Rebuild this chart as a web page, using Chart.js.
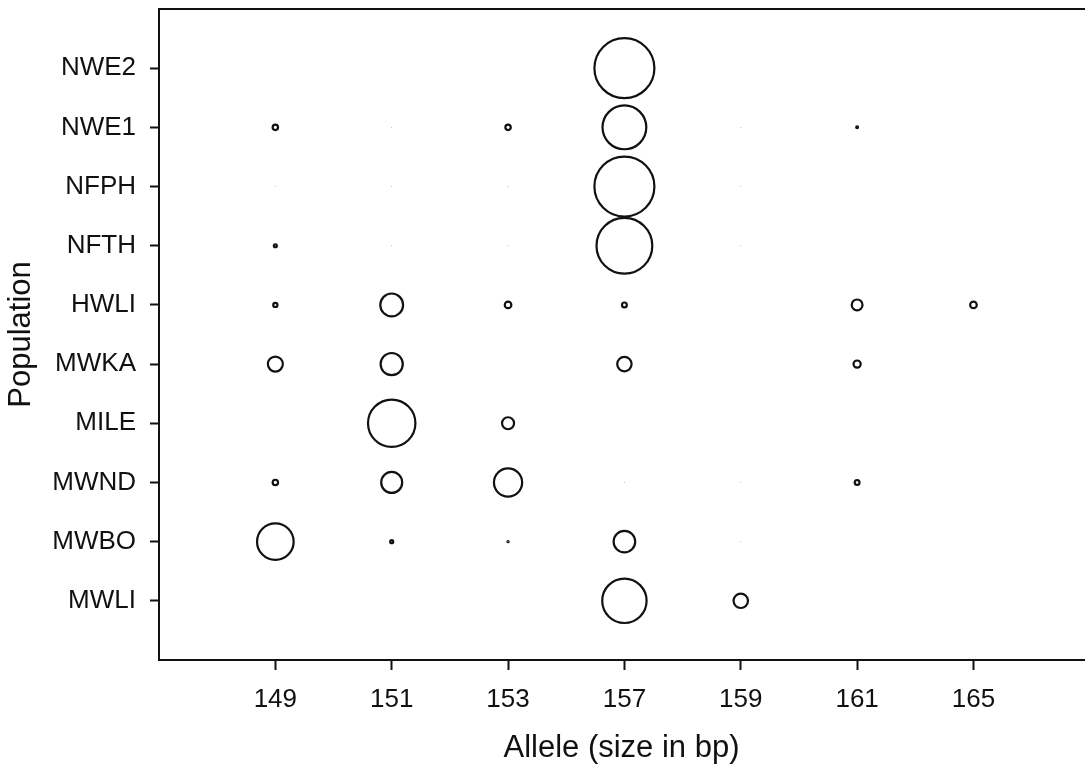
<!DOCTYPE html>
<html>
<head>
<meta charset="utf-8">
<script src="https://cdn.jsdelivr.net/npm/chart.js@4.4.1/dist/chart.umd.min.js"></script>
<style>
  html, body { margin: 0; padding: 0; background: #fff; overflow: hidden; }
  #wrap { width: 1085px; height: 772px; }
</style>
</head>
<body>
<div id="wrap"><canvas id="alleleChart" width="1085" height="772"></canvas></div>
<script>
// allele sizes (x) and populations (y, top to bottom)
const alleles = ['149', '151', '153', '157', '159', '161', '165'];
const populations = ['NWE2', 'NWE1', 'NFPH', 'NFTH', 'HWLI', 'MWKA', 'MILE', 'MWND', 'MWBO', 'MWLI'];

// allele frequency per population, same order as alleles (null = not found)
const NWE2 = [null, null, null, 1.00, null, null, null];
const NWE1 = [0.09, 0.005, 0.09, 0.73, 0.005, 0.03, null];
const NFPH = [0.005, 0.005, 0.005, 1.00, 0.005, null, null];
const NFTH = [0.05, 0.005, 0.005, 0.93, 0.005, null, null];
const HWLI = [0.07, 0.38, 0.11, 0.08, null, 0.18, 0.11];
const MWKA = [0.25, 0.37, null, 0.24, null, 0.12, null];
const MILE = [null, 0.79, 0.20, null, null, null, null];
const MWND = [0.09, 0.35, 0.47, 0.005, 0.005, 0.08, null];
const MWBO = [0.61, 0.05, 0.02, 0.36, 0.005, null, null];
const MWLI = [null, null, null, 0.74, 0.24, null, null];

const rows = [NWE2, NWE1, NFPH, NFTH, HWLI, MWKA, MILE, MWND, MWBO, MWLI];
const maxRadius = 30;

const points = [];
rows.forEach((row, yi) => {
    row.forEach((f, xi) => {
        if (f === null) return;
        points.push({ x: xi, y: yi, r: f * maxRadius, f });
    });
});

// top edge of the plot frame
const framePlugin = {
    id: 'frame',
    afterDraw(chart) {
        const { ctx, chartArea } = chart;
        ctx.save();
        ctx.strokeStyle = '#111';
        ctx.lineWidth = 2;
        ctx.beginPath();
        ctx.moveTo(chartArea.left - 1, chartArea.top);
        ctx.lineTo(chartArea.right + 1, chartArea.top);
        ctx.stroke();
        ctx.restore();
    }
};

const tickFont = { family: 'Liberation Sans, Arial, sans-serif', size: 26 };
const titleFont = { family: 'Liberation Sans, Arial, sans-serif', size: 31 };

new Chart(document.getElementById('alleleChart').getContext('2d'), {
    type: 'bubble',
    data: {
        datasets: [{
            data: points,
            backgroundColor: 'rgba(0,0,0,0)',
            borderColor: ctx => (ctx.raw && ctx.raw.f < 0.01) ? '#999' : '#111',
            borderWidth: ctx => (ctx.raw && ctx.raw.f < 0.01) ? 1 : 2.2,
            clip: false
        }]
    },
    options: {
        responsive: false,
        animation: false,
        layout: { autoPadding: false, padding: { top: 9, right: 1, left: 0, bottom: 0 } },
        plugins: {
            legend: { display: false },
            tooltip: { enabled: false }
        },
        scales: {
            x: {
                type: 'linear',
                min: -1,
                max: 6.95,
                afterBuildTicks: scale => { scale.ticks = alleles.map((_, i) => ({ value: i })); },
                afterFit: scale => {
                    scale.height = 112;
                    scale.paddingLeft = 0;
                    scale.paddingRight = 0;
                },
                ticks: {
                    callback: v => alleles[v],
                    color: '#111',
                    font: tickFont,
                    padding: 14,
                    autoSkip: false,
                    maxRotation: 0
                },
                grid: { drawOnChartArea: false, drawTicks: true, tickLength: 10, tickColor: '#111', tickWidth: 2 },
                border: { display: true, color: '#111', width: 2 },
                title: { display: true, text: 'Allele (size in bp)', color: '#111', font: titleFont, padding: { top: 0, bottom: 5 } }
            },
            y: {
                type: 'linear',
                reverse: true,
                min: -1,
                max: 10,
                afterBuildTicks: scale => { scale.ticks = populations.map((_, i) => ({ value: i })); },
                afterFit: scale => {
                    scale.width = 159;
                    scale.paddingTop = 0;
                    scale.paddingBottom = 0;
                },
                ticks: {
                    callback: v => populations[v],
                    color: '#111',
                    font: tickFont,
                    padding: 14,
                    autoSkip: false
                },
                grid: { drawOnChartArea: false, drawTicks: true, tickLength: 9, tickColor: '#111', tickWidth: 2 },
                border: { display: true, color: '#111', width: 2 },
                title: { display: true, text: 'Population', color: '#111', font: titleFont, padding: { top: 3, bottom: 0 } }
            }
        }
    },
    plugins: [framePlugin]
});
</script>
</body>
</html>
